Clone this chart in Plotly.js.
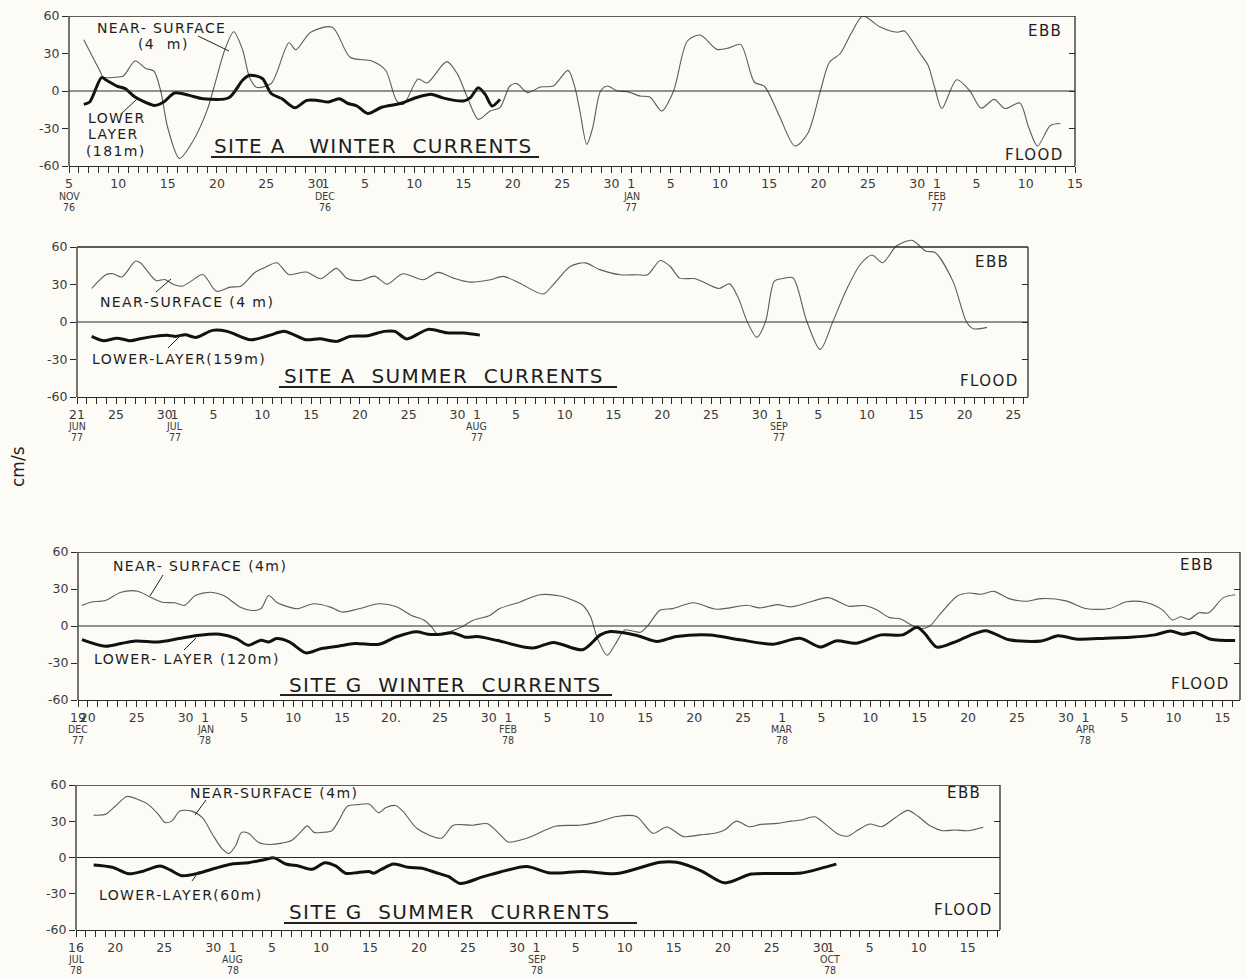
<!DOCTYPE html>
<html>
<head>
<meta charset="utf-8">
<script src="https://cdn.plot.ly/plotly-3.0.1.min.js"></script>
<style>
  html, body { margin: 0; padding: 0; background: #fcfbf6; }
  #chart { width: 1246px; height: 979px; }
</style>
</head>
<body>
<div id="chart"></div>
<script>
// ---------------- DATA (x = days after the first day of each panel) ----------------
// Panel 1: Site A winter currents, from 5 Nov 1976
const ns1Day = [1.5,3.1,3.5,4.6,5.5,6.7,7.8,8.6,9.3,10.0,11.2,12.5,14.0,14.7,15.8,16.7,17.6,18.3,19.0,20.5,22.3,23.0,24.5,26.7,28.5,30.7,32.1,33.2,33.9,35.4,36.3,38.3,39.4,40.4,41.5,42.7,43.7,44.7,45.4,46.5,47.8,49.1,50.6,51.3,51.8,52.5,53.1,53.9,54.6,55.6,56.6,57.9,58.9,60.1,61.3,62.7,64.0,65.7,67.0,68.1,69.5,70.5,72.0,73.6,74.9,76.2,77.1,78.2,79.3,80.5,82.2,84.0,84.7,86.2,87.1,87.8,88.5,90.0,91.3,92.5,93.8,94.9,96.4,97.3,98.2,99.5,100.5];
const ns1Val = [41,16.6,11,11,12,24,18,16,0,-29,-54,-41,-15.5,3,33,47.4,33,11,3,6,38.6,33,47,51,27,24,16.6,-7.5,-10.7,9.6,6.4,23.5,13.3,-5.3,-22.7,-16,-13.3,4,5.9,-1.3,3.2,4,16.5,2.7,-16,-42.7,-29.3,0,4,0,-0.5,-4,-4.8,-16,0,40,44.8,33.3,34.7,37.3,7,3.8,-19.5,-44,-34,0.5,23,30,46,60,51.4,47,48,31,20.6,2,-14,9,0.5,-13.7,-6.7,-14,-9.6,-29,-44,-27.6,-26];
const lo1Day = [1.5,2.1,3.3,3.8,4.9,5.7,6.7,8.7,9.6,10.7,12.2,13.6,16.2,17.6,18.3,19.6,20.5,21.6,22.9,24.1,25.2,26.3,27.4,28.3,29.2,30.3,31.7,33.6,35.4,36.8,37.9,40.0,40.7,41.5,42.2,42.9,43.7];
const lo1Val = [-10.7,-8.8,10.7,8.6,3.8,1.9,-4.8,-11.5,-8.8,-1.6,-3.5,-6.2,-5.4,8.6,12.6,10,-2,-6.2,-13.4,-7.5,-7.5,-8.8,-6.2,-10,-12,-18,-13,-10,-4.8,-2.7,-5.5,-8,-5.3,2.7,-2.7,-12,-6.7];
const p1TickVals = [0,5,10,15,20,25,26,30,35,40,45,50,55,57,61,66,71,76,81,86,88,92,97,102];
const p1TickText = ['5|NOV|76','10','15','20','25','30','1|DEC|76','5','10','15','20','25','30','1|JAN|77','5','10','15','20','25','30','1|FEB|77','5','10','15'];

// Panel 2: Site A summer currents, from 21 Jun 1977
const ns2Day = [1.5,3,3.7,4.6,6,6.5,8.1,9,9.9,10.8,11.7,12.9,14.3,15.7,16.8,18.2,19.2,20.5,21.7,23.5,25,26.6,27.7,29.1,30.5,31.8,33.4,35.5,37,38.6,40.3,42.4,43.7,45.4,47.8,48.8,50.6,52.1,53.6,55.7,57.4,58.5,59.8,60.8,61.8,63.4,65.8,66.9,67.8,68.7,69.7,70.6,71.5,72.4,73.4,74.8,76.2,77.5,78.9,80.3,81.5,82.6,84,85.6,87,88,89.8,91.2,91.9,93.3];
const ns2Val = [26.8,38,38.6,36,48.8,47.4,33.2,34,30,28.7,32.7,38,24.6,27.9,28.7,39.4,43.4,47.4,38,40,34.6,42.9,34.8,33.2,36.7,30.3,38.6,33.8,39.7,35.1,31.9,33.8,36.5,31,22.4,29.7,44.6,47.3,41.9,37.8,37.8,37.8,49.2,44.6,35.1,34.6,26.8,30.5,19.3,0.5,-12.3,0.5,32.7,34.8,35.4,1,-22,0.5,26,46,53.6,47.4,60.8,65.4,56.8,55.4,32.7,0,-5.4,-4.3];
const lo2Day = [1.5,2.7,4.1,5.5,6.5,8,9.4,10.1,11.1,12.2,13.9,15.4,17.8,19.6,21.3,23.5,24.9,26.6,28,29.8,31.5,32.6,33.8,36,37.9,39.6,41.3];
const lo2Val = [-11.5,-15,-12.9,-15,-13.4,-11.5,-10.7,-11.5,-10.2,-12.3,-6.7,-7.5,-14.2,-11,-7.5,-14.2,-13.4,-15.5,-11.5,-11,-7.5,-7.5,-13.5,-5.9,-8.6,-8.8,-10.5];
const p2TickVals = [0,4,9,10,14,19,24,29,34,39,41,45,50,55,60,65,70,72,76,81,86,91,96];
const p2TickText = ['21|JUN|77','25','30','1|JUL|77','5','10','15','20','25','30','1|AUG|77','5','10','15','20','25','30','1|SEP|77','5','10','15','20','25'];

// Panel 3: Site G winter currents, from 19 Dec 1977
const ns3Day = [0.4,1.3,2.8,4.4,6.1,7.4,8.6,9.9,10.9,12,13.6,14.9,16.6,17.8,18.7,19.5,20.3,21.6,22.4,24.1,25.8,27,28.7,30.8,32.5,34.1,35.4,36.2,36.7,37.9,39.2,40.4,42.1,43.1,45.2,47.2,49.3,50.6,51.6,52.4,53.1,54.1,54.9,55.9,56.7,57.5,58.3,59.5,60.8,62.9,65.3,68.4,69.7,71.5,72.8,74.3,76.7,78.8,80.4,81.7,82.9,84.1,85.2,86,87,88.2,89.9,91.1,92.3,93.6,95.2,96.9,98.5,101,103,105.5,107.2,109.2,110.9,111.9,112.7,113.6,114.6,115.6,117.1,118.3];
const ns3Val = [16.7,19.3,20.7,27.4,28.2,23.4,19.3,18.8,16.7,24.7,27.4,24.7,15.3,12.6,14,24.7,19.3,15.3,14,18,15.3,11.3,14,18,15.8,8.6,4.6,-1.3,-6.2,-4.8,-0.8,4.6,8.6,14.1,19.5,25.3,24.3,20.8,16.8,7.5,-9.9,-23.7,-15.2,-3.2,-4,-5.1,0.8,12.8,14.1,18.9,13.6,16.8,14.7,17.3,15.5,18.2,23,16,16.6,12.9,7,5.6,0.8,-1.9,-0.5,10.2,24.4,26.8,25.7,28.1,22.2,20.1,22.2,20.4,14.2,14.2,19.6,19,12.9,4.8,7.5,5.4,10.7,10.7,23,25.4];
const lo3Day = [0.4,2.8,4.4,5.9,8.2,10.3,12.4,14.5,16.2,17.4,18.7,19.5,20.3,21.6,23.3,24.9,26.6,28.3,30.8,32.5,34.6,35.8,37.1,38.3,39.6,40.8,42.9,46.5,48.6,51.6,53.4,54.4,56.1,57.5,59.2,61.2,64.6,67.7,71.1,73.8,75.9,77.5,79.6,82.1,84.3,85.8,86.6,87.8,89.5,91.1,92.8,95.2,98.5,100.2,102.2,105.1,107.6,110.1,111.7,112.9,114.2,115.8,118.3];
const lo3Val = [-11,-16.4,-14.2,-12.1,-12.9,-10.2,-7.5,-6.7,-10.2,-15.6,-11.5,-12.9,-10.2,-12.9,-21.8,-18.3,-16.4,-14.2,-14.8,-8.9,-4.6,-6.7,-6.7,-5.4,-9.1,-8.6,-11.8,-17.9,-13.3,-19.2,-7.2,-4.5,-5.9,-8.5,-12.5,-8.5,-7.2,-11.2,-14.7,-9.9,-17.1,-12.1,-13.9,-7.2,-7.2,-1.1,-6.4,-17.1,-13.4,-8,-3.8,-11.2,-12.1,-8,-10.7,-9.9,-9.1,-7.2,-4,-6.7,-5.4,-10.7,-11.8];
const p3TickVals = [0,1,6,11,13,17,22,27,32,37,42,44,48,53,58,63,68,72,76,81,86,91,96,101,103,107,112,117];
const p3TickText = ['19|DEC|77','20','25','30','1|JAN|78','5','10','15','20.','25','30','1|FEB|78','5','10','15','20','25','1|MAR|78','5','10','15','20','25','30','1|APR|78','5','10','15'];

// Panel 4: Site G summer currents, from 16 Jul 1978
const ns4Day = [1.8,3,4,5.2,6.4,7.4,8.4,9.1,9.8,10.6,11.8,12.9,13.9,14.9,15.6,16.3,16.9,17.6,18.6,19.7,21,22,22.9,23.6,24.3,25.1,26.1,26.8,27.7,28.8,29.9,30.9,31.6,32.6,33.4,34.8,37.3,38.5,40.5,42,43.3,44.1,46,49,51.4,53.2,55.2,57.2,58.9,60.3,62,63.7,65.2,66.2,67.4,68.7,69.9,71.6,73,74,75.4,76.6,77.8,78.8,79.8,81,82.2,83.6,84.9,86,87.2,88.4,89.7,91.1,92.6];
const ns4Val = [35.1,35.7,42.4,50.5,47.8,43.8,35.7,28.9,30.3,38.4,38.4,33,19.5,7.3,3.2,10,20.8,20,12.7,10.8,11.9,14.1,20.8,26.2,20.8,20.8,22.2,30.3,42.4,43.8,44.3,37,41.1,43,38,24,16,26.7,26.7,28,18.7,12.8,16,26,26.7,29.3,34,34,20,25.3,17.3,18.7,20,22.7,30.1,25.5,27.4,28.2,30.1,31,33.7,26.8,19.2,17.8,22.7,27.7,25.5,32.9,39,33.7,26,22.2,22.7,22.2,25];
const lo4Day = [1.8,3.7,5.4,6.7,8.6,9.6,10.8,12.5,14.2,15.9,17.6,19.3,20.2,21.4,22.7,24.1,25.4,26.5,27.5,28.8,29.9,30.4,31.2,32.4,33.9,35.3,36.7,38,39.2,41.5,43.3,46,48.4,51.7,55.2,59.6,61.3,63.8,66.2,68.9,71.4,74,76.1,77.6];
const lo4Val = [-6.2,-8.1,-13.5,-11.6,-7,-10.3,-15.1,-13,-8.9,-5.4,-4.3,-1.6,-0.3,-5.4,-7,-9.7,-4.3,-7,-13,-12.4,-11.6,-13,-9.7,-5.4,-8.1,-8.9,-12.4,-15.7,-21.5,-16,-12,-7.5,-12.8,-11.5,-13.3,-4,-4,-11,-21,-13.7,-13.2,-12.9,-8.8,-5.5];
const p4TickVals = [0,4,9,14,16,20,25,30,35,40,45,47,51,56,61,66,71,76,77,81,86,91];
const p4TickText = ['16|JUL|78','20','25','30','1|AUG|78','5','10','15','20','25','30','1|SEP|78','5','10','15','20','25','30','1|OCT|78','5','10','15'];

const yTickVals = [-60,-30,0,30,60];
const yTickText = ['-60','-30','0','30','60'];

// ---------------- LAYOUT ----------------
const W = 1246, H = 979;
const FONT = 'DejaVu Sans, Liberation Sans, sans-serif';
const CFONT = 'DejaVu Sans Condensed, DejaVu Sans, sans-serif';
const INK = '#2a2a2a';
const X = px => px / W;
const Y = py => 1 - py / H;

const panels = [
  {L:69, R:1075, T:16,  B:166, xr:[0,102],   yr:[-60,60], ns:[ns1Day,ns1Val], lo:[lo1Day,lo1Val], tv:p1TickVals, tt:p1TickText, mo:[30,41]},
  {L:77, R:1028, T:237, B:397, xr:[0,97.5],  yr:[-60,68], ns:[ns2Day,ns2Val], lo:[lo2Day,lo2Val], tv:p2TickVals, tt:p2TickText, mo:[29,40]},
  {L:78, R:1240, T:552, B:700, xr:[0,118.8], yr:[-60,60], ns:[ns3Day,ns3Val], lo:[lo3Day,lo3Val], tv:p3TickVals, tt:p3TickText, mo:[29,40]},
  {L:76, R:1000, T:785, B:930, xr:[0,94.3],  yr:[-60,60], ns:[ns4Day,ns4Val], lo:[lo4Day,lo4Val], tv:p4TickVals, tt:p4TickText, mo:[29,39.5]}
];

const data = [];
const layout = {
  width: W, height: H,
  margin: {l:0, r:0, t:0, b:0},
  paper_bgcolor: '#fcfbf6',
  plot_bgcolor: 'rgba(0,0,0,0)',
  showlegend: false,
  shapes: [],
  annotations: []
};

panels.forEach((p, i) => {
  const n = i + 1;
  const xs = n === 1 ? '' : String(n);
  const ys = n === 1 ? '' : String(n);
  const xName = 'x' + xs, yName = 'y' + ys;
  data.push({x: p.ns[0], y: p.ns[1], xaxis: xName, yaxis: yName, type: 'scatter', mode: 'lines',
             line: {color: '#5c5c5c', width: 1.1, shape: 'spline', smoothing: 0.8}, hoverinfo: 'skip'});
  data.push({x: p.lo[0], y: p.lo[1], xaxis: xName, yaxis: yName, type: 'scatter', mode: 'lines',
             line: {color: '#111111', width: 3, shape: 'spline', smoothing: 0.8}, hoverinfo: 'skip'});
  const rName = 'y' + (n + 4);
  data.push({x: [p.xr[0]], y: [0], xaxis: xName, yaxis: rName, type: 'scatter', mode: 'markers',
             marker: {opacity: 0}, hoverinfo: 'skip'});

  const dayText = p.tt.map(t => t.split('|')[0]);
  layout['xaxis' + xs] = {
    domain: [X(p.L), X(p.R)], range: p.xr, anchor: yName,
    showline: true, linecolor: INK, linewidth: 1.3, mirror: false,
    showgrid: false, zeroline: false, fixedrange: true,
    tickmode: 'array', tickvals: p.tv, ticktext: dayText, tickangle: 0,
    ticks: 'outside', ticklen: 6, tickwidth: 1, tickcolor: INK,
    tickfont: {family: FONT, size: 12.5, color: '#3a3a3a'},
    minor: {tickmode: 'linear', tick0: 0, dtick: 1, ticks: 'outside', ticklen: 6, tickwidth: 1, tickcolor: INK, showgrid: false}
  };
  layout['yaxis' + ys] = {
    domain: [Y(p.B), Y(p.T)], range: p.yr, anchor: xName,
    showline: false, showgrid: false, zeroline: false, fixedrange: true,
    tickmode: 'array', tickvals: yTickVals, ticktext: yTickText,
    ticks: 'outside', ticklen: 6, tickwidth: 1, tickcolor: INK,
    tickfont: {family: FONT, size: 12.5, color: '#3a3a3a'}
  };
  layout['yaxis' + (n + 4)] = {
    overlaying: yName, anchor: xName, side: 'right', range: p.yr,
    showline: false, showgrid: false, zeroline: false, fixedrange: true,
    tickmode: 'array', tickvals: [-30, 0, 30], showticklabels: false,
    ticks: 'inside', ticklen: 6, tickwidth: 1, tickcolor: INK
  };

  // month / year lines under the first-of-month ticks
  p.tt.forEach((t, k) => {
    const parts = t.split('|');
    if (parts.length < 3) return;
    [parts[1], parts[2]].forEach((s, j) => {
      layout.annotations.push({xref: xName, yref: 'paper', x: p.tv[k], y: Y(p.B + p.mo[j]),
        text: s, showarrow: false, xanchor: 'center', yanchor: 'middle', borderpad: 0,
        font: {family: CFONT, size: 10.5, color: '#3a3a3a'}});
    });
  });

  const xd = xName + ' domain';
  const ln = {color: INK, width: 1.3};
  layout.shapes.push({type:'line', xref: xd, yref: yName, x0:0, x1:1, y0:60, y1:60, line: ln});
  layout.shapes.push({type:'line', xref: xd, yref: yName, x0:0, x1:0, y0:-60, y1:60, line: ln});
  layout.shapes.push({type:'line', xref: xd, yref: yName, x0:1, x1:1, y0:-60, y1:60, line: ln});
  layout.shapes.push({type:'line', xref: xd, yref: yName, x0:0, x1:1, y0:0, y1:0, line: {color: INK, width: 1.1}});
});

function ann(text, x, y, size, anchor) {
  layout.annotations.push({xref:'paper', yref:'paper', x: X(x), y: Y(y), text: text, showarrow: false,
    xanchor: anchor || 'left', yanchor: 'middle', font: {family: FONT, size: size, color: '#1e1e1e'}});
}
function seg(x0, y0, x1, y1, w) {
  layout.shapes.push({type:'line', xref:'paper', yref:'paper', x0: X(x0), y0: Y(y0), x1: X(x1), y1: Y(y1),
    line: {color: '#222', width: w || 1}});
}
const sp = s => '<span style="letter-spacing:1.4px">' + s + '</span>';

// Panel 1 labels
ann(sp('NEAR- SURFACE'), 95, 28, 14);
ann(sp('(4  m)'), 136, 44, 14);
seg(198, 36, 229, 51);
ann(sp('LOWER'), 86, 118, 14);
ann(sp('LAYER'), 86, 134, 14);
ann(sp('(181m)'), 84, 151, 14);
seg(121, 114, 137, 99);
ann(sp('SITE A\u00a0\u00a0 WINTER\u00a0 CURRENTS'), 212, 146, 20);
seg(211, 157, 539, 157, 2);
ann(sp('EBB'), 1064, 31, 15, 'right');
ann(sp('FLOOD'), 1066, 155, 15, 'right');

// Panel 2 labels
ann(sp('NEAR-SURFACE (4 m)'), 98, 302, 14);
seg(156, 292, 171, 279);
ann(sp('LOWER-LAYER(159m)'), 90, 359, 14);
seg(168, 348, 181, 335);
ann(sp('SITE A\u00a0 SUMMER\u00a0 CURRENTS'), 282, 376, 20);
seg(279, 387, 617, 387, 2);
ann(sp('EBB'), 1011, 262, 15, 'right');
ann(sp('FLOOD'), 1021, 381, 15, 'right');

// Panel 3 labels
ann(sp('NEAR- SURFACE (4m)'), 111, 566, 14);
seg(150, 596, 163, 575);
ann(sp('LOWER- LAYER (120m)'), 92, 659, 14);
seg(184, 650, 196, 638);
ann(sp('SITE G\u00a0 WINTER\u00a0 CURRENTS'), 287, 685, 20);
seg(280, 695, 612, 695, 2);
ann(sp('EBB'), 1216, 565, 15, 'right');
ann(sp('FLOOD'), 1232, 684, 15, 'right');

// Panel 4 labels
ann(sp('NEAR-SURFACE (4m)'), 188, 793, 14);
seg(195, 815, 206, 800);
ann(sp('LOWER-LAYER(60m)'), 97, 895, 14);
seg(192, 881, 199, 871);
ann(sp('SITE G\u00a0 SUMMER\u00a0 CURRENTS'), 287, 912, 20);
seg(284, 923, 637, 923, 2);
ann(sp('EBB'), 983, 793, 15, 'right');
ann(sp('FLOOD'), 995, 910, 15, 'right');

// y-axis unit
layout.annotations.push({xref:'paper', yref:'paper', x: X(18), y: Y(467), text: 'cm/s', showarrow: false,
  textangle: -90, xanchor: 'center', yanchor: 'middle', font: {family: FONT, size: 17, color: '#222'}});

Plotly.newPlot('chart', data, layout, {staticPlot: true, displayModeBar: false});
</script>
</body>
</html>
